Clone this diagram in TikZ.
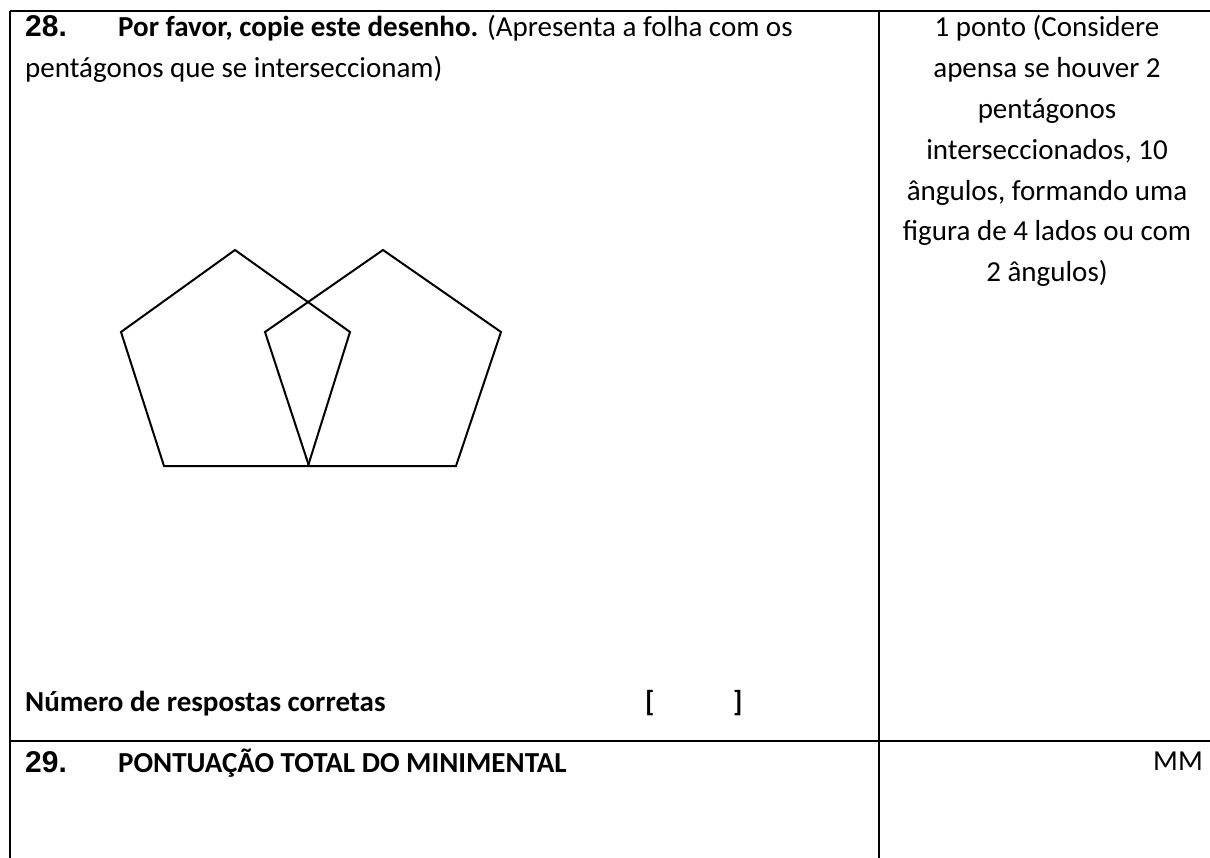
\documentclass[tikz,border=0pt]{standalone}
\usepackage{fontspec}
\usepackage{tikz}
\setmainfont{Carlito}
\newfontfamily\arialFont{Liberation Sans}
\tikzstyle{sheet} = [x = 1pt, y = -1pt]
\tikzstyle{cellLine} = [color=black, line width=2.7pt]
\tikzstyle{pentagonLine} = [color=black, line width=2pt, line join=miter]
\tikzstyle{bodyText} = [anchor=base west, inner sep=0pt, font=\fontsize{29}{40.8}\selectfont]
\tikzstyle{boldText} = [bodyText, font=\bfseries\fontsize{29}{40.8}\selectfont]
\tikzstyle{itemNumber} = [anchor=base west, inner sep=0pt, font=\arialFont\bfseries\fontsize{30}{40.8}\selectfont]
\tikzstyle{pointsText} = [bodyText, anchor=base]
\newcommand{\lineGap}{40.8}

\begin{document}
\begin{tikzpicture}[sheet]
  \useasboundingbox (0,0) rectangle (1210,858);
  % table rules
  \draw [cellLine] (10,11) -- (1210,11);
  \draw [cellLine] (10,11) -- (10,858);
  \draw [cellLine] (879,11) -- (879,858);
  \draw [cellLine] (10,741) -- (1210,741);

  % item 28
  \node [itemNumber] (num28) at (25,37) {28.};
  \node [bodyText] (task28) at (118,37) {\textbf{Por favor, copie este desenho.} (Apresenta a folha com os};
  \node [bodyText] (task28b) at (25,78) {pentágonos que se interseccionam)};
  \draw [pentagonLine] (235,250) -- (350,332) -- (308,466) -- (164,466) -- (121,332) -- cycle;
  \draw [pentagonLine] (383,250) -- (501,332) -- (456,466) -- (309,466) -- (265,332) -- cycle;
  \node [boldText] (correct28) at (25,711) {Número de respostas corretas};
  \node [boldText] (open28) at (645,711) {[};
  \node [boldText] (close28) at (733,711) {]};
  \foreach \pointLine [count=\n] in {1 ponto (Considere, apensa se houver 2, pentágonos,
      {interseccionados, 10}, {ângulos, formando uma}, figura de 4 lados ou com, 2 ângulos)} {
    \pgfmathsetmacro{\var}{37 + (\n - 1) * \lineGap}
    \node [pointsText] (points\n) at (1047,\var) {\pointLine};
  }

  % item 29
  \node [itemNumber] (num29) at (25,772) {29.};
  \node [boldText] (task29) at (118,772) {PONTUAÇÃO TOTAL DO MINIMENTAL};
  \node [bodyText, anchor=base east] (score29) at (1203,770) {MM};
\end{tikzpicture}
\end{document}
